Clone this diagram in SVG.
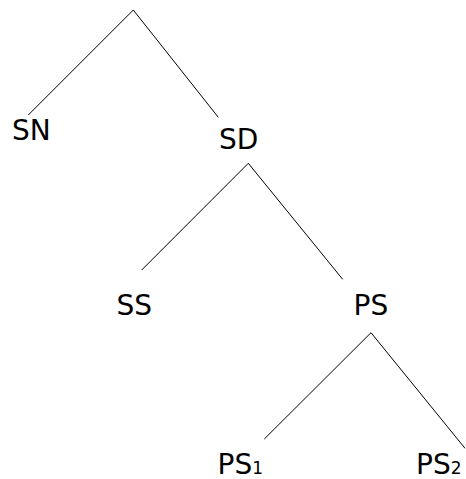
<svg xmlns="http://www.w3.org/2000/svg" width="466" height="479" viewBox="0 0 466 479">
  <style>
    .edge { stroke: #000; stroke-width: 1; fill: none; }
    .lbl { font-family: "DejaVu Sans", "Liberation Sans", sans-serif; font-size: 28px; fill: #000; }
    .sub { font-size: 17px; }
  </style>
  <rect width="466" height="479" fill="#fff"/>
  <g id="connectors">
    <line class="edge" x1="133.3" y1="10" x2="28.3" y2="115"/>
    <line class="edge" x1="133.3" y1="10" x2="218.3" y2="117.3"/>
    <line class="edge" x1="248.3" y1="163.3" x2="141.7" y2="270"/>
    <line class="edge" x1="248.3" y1="163.3" x2="342.7" y2="279.3"/>
    <line class="edge" x1="371" y1="332.7" x2="264.3" y2="439"/>
    <line class="edge" x1="371" y1="332.7" x2="465" y2="448.3"/>
  </g>
  <g id="SN"><text class="lbl" x="12" y="139.5">SN</text></g>
  <g id="SD"><text class="lbl" x="219" y="148.5">SD</text></g>
  <g id="SS"><text class="lbl" x="116.5" y="314.5">SS</text></g>
  <g id="PS"><text class="lbl" x="353.5" y="314.5">PS</text></g>
  <g id="PS1"><text class="lbl" x="217.5" y="473.5">PS<tspan class="sub">1</tspan></text></g>
  <g id="PS2"><text class="lbl" x="416" y="473.5">PS<tspan class="sub">2</tspan></text></g>
</svg>
